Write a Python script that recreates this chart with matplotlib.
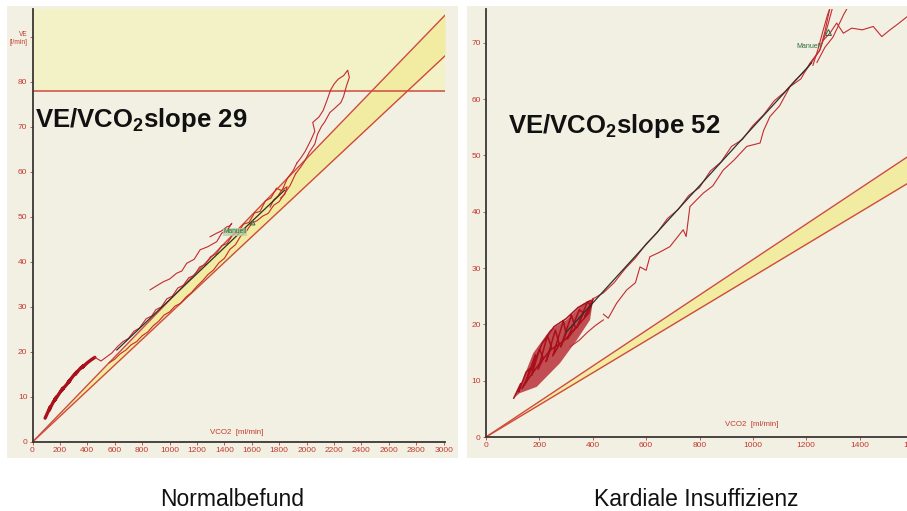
import matplotlib
matplotlib.use("Agg")
import matplotlib.pyplot as plt
from matplotlib.patches import Rectangle
from matplotlib import font_manager

plt.rcParams["font.family"] = ["Liberation Sans", "DejaVu Sans"]
plt.rcParams["mathtext.fontset"] = "custom"
plt.rcParams["mathtext.rm"] = "Liberation Sans"
plt.rcParams["mathtext.bf"] = "Liberation Sans:bold"

# ---------------- data ----------------
# normal reference band (VE/VCO2 slope limits, l per l)
band_low = 28.5
band_high = 31.5

# left panel: healthy subject
left_slope = 29
left_intercept = 2.6
left_fit_range = [615, 1840]
left_ve_limit = 78
left_xticks = [0, 200, 400, 600, 800, 1000, 1200, 1400, 1600, 1800, 2000, 2200, 2400, 2600, 2800, 3000]
left_yticks = [0, 10, 20, 30, 40, 50, 60, 70, 80, 90]
left_ytick_labels = ["0", "10", "20", "30", "40", "50", "60", "70", "80", "VE\n[l/min]"]

left_warm_x = [92, 110, 130, 120, 150, 175, 160, 200, 225, 210, 250, 275, 260, 300, 325, 310, 350, 375, 360, 400, 430, 455]
left_warm_y = [5.3, 6.5, 7.8, 7.0, 8.8, 10.0, 9.2, 11.0, 12.0, 11.4, 12.8, 13.8, 13.2, 14.8, 15.6, 15.0, 16.4, 17.0, 16.5, 17.6, 18.3, 18.8]

left_up_x = [455, 500, 540, 580, 620, 660, 700, 740, 780, 830, 870, 900, 940, 980, 1020, 1060, 1100, 1140, 1180, 1220,
             1260, 1300, 1340, 1380, 1420, 1460, 1500, 1540, 1580, 1620, 1660, 1700, 1740, 1780, 1820, 1860, 1900, 1930]
left_up_y = [18.8, 18.0, 18.9, 19.8, 21.2, 22.3, 23.0, 24.6, 25.3, 27.4, 28.0, 29.4, 30.0, 31.8, 32.4, 34.2, 34.8, 36.5, 37.0, 38.9,
             39.4, 41.2, 41.8, 43.6, 44.1, 46.0, 46.5, 48.4, 48.8, 50.9, 51.2, 53.6, 54.2, 56.4, 55.8, 58.6, 60.2, 62.0]

left_peak_x = [1930, 1960, 1990, 2030, 2060, 2045, 2090, 2120, 2150, 2175, 2200, 2230, 2270, 2300, 2312, 2290, 2270, 2250,
               2200, 2170, 2130, 2110, 2080, 2060, 2020, 1990, 1960, 1920]
left_peak_y = [62.0, 63.2, 64.6, 67.0, 69.0, 71.0, 72.2, 73.6, 76.0, 78.2, 79.5, 80.6, 81.4, 82.6, 81.0, 79.0, 76.8, 75.4,
               74.0, 73.2, 71.0, 70.2, 68.4, 66.2, 64.4, 62.6, 61.2, 59.6]

left_down_x = [1920, 1880, 1840, 1800, 1760, 1720, 1680, 1640, 1600, 1560, 1520, 1480, 1440, 1400, 1360, 1320, 1280, 1240,
               1200, 1160, 1120, 1080, 1040, 1000, 960, 920, 880, 840, 800, 760, 720, 680, 640, 600, 560]
left_down_y = [59.6, 57.0, 55.2, 53.4, 52.6, 50.8, 50.2, 49.2, 48.6, 46.8, 45.8, 43.8, 42.8, 40.8, 39.8, 38.2, 37.2, 35.8,
               34.6, 33.2, 32.2, 30.8, 30.2, 28.9, 28.2, 26.8, 25.8, 24.4, 23.6, 22.3, 21.6, 20.4, 19.6, 18.4, 17.6]

left_loop_x = [858, 900, 955, 1000, 1052, 1090, 1125, 1180, 1223, 1280, 1344, 1381, 1420, 1454, 1440, 1418, 1380, 1344, 1296]
left_loop_y = [33.8, 34.6, 35.6, 36.2, 37.5, 38.0, 39.7, 40.6, 42.7, 43.4, 44.5, 46.4, 47.0, 48.6, 48.0, 47.8, 46.9, 46.4, 45.6]

left_hook_x = [1734, 1760, 1790, 1820, 1858, 1840, 1810]
left_hook_y = [52.2, 53.8, 54.6, 56.0, 56.7, 55.0, 54.2]

left_marker = (1602, 48.9)
left_marker_text = (1478, 46.7)

# right panel: heart failure patient
right_slope = 52
right_intercept = 3.0
right_fit_range = [300, 1220]
right_xticks = [0, 200, 400, 600, 800, 1000, 1200, 1400, 1600]
right_yticks = [0, 10, 20, 30, 40, 50, 60, 70]

right_cluster_edge_x = [127, 177, 240, 302, 365, 402, 390, 340, 277, 190, 127, 104]
right_cluster_edge_y = [8.9, 14.9, 19.0, 20.8, 23.7, 24.6, 20.8, 17.2, 13.1, 8.9, 7.8, 6.9]

right_cluster_x = [104, 130, 122, 150, 165, 150, 185, 172, 200, 215, 195, 230, 245, 225, 260, 275, 250, 290, 300, 280,
                   320, 335, 305, 350, 365, 340, 380, 395, 370, 402, 385, 330, 290, 240, 200, 160, 135, 170, 210, 255,
                   300, 345, 390]
right_cluster_y = [6.9, 9.5, 8.0, 11.5, 12.2, 9.8, 14.6, 11.0, 15.6, 14.0, 12.0, 18.0, 16.0, 13.4, 19.0, 16.4, 14.4, 20.6,
                   18.4, 16.0, 21.6, 19.4, 17.4, 22.6, 22.0, 19.4, 24.0, 23.4, 21.4, 24.6, 22.0, 19.0, 17.0, 15.4,
                   13.0, 10.4, 8.6, 12.0, 16.6, 19.6, 21.0, 23.0, 24.2]

right_tail_x = [315, 350, 380, 410, 440]
right_tail_y = [16.0, 17.2, 18.6, 19.8, 20.8]

right_up_x = [400, 440, 480, 520, 560, 600, 640, 680, 720, 760, 800, 840, 880, 920, 960, 1000, 1040, 1080, 1120, 1160,
              1200, 1230, 1250, 1265, 1280, 1300]
right_up_y = [24.5, 25.6, 27.4, 29.8, 31.8, 34.3, 36.2, 38.8, 40.4, 42.9, 44.3, 47.2, 48.8, 51.6, 52.8, 55.3, 57.2, 59.7,
              61.3, 63.4, 65.2, 67.2, 68.6, 70.6, 73.0, 76.5]

right_low_x = [440, 458, 490, 527, 560, 577, 600, 614, 650, 689, 739, 750, 764, 814, 850, 889, 930, 977, 1027, 1040,
               1064, 1100, 1139, 1180, 1214, 1251, 1270, 1290]
right_low_y = [21.8, 21.1, 23.8, 26.1, 27.4, 30.2, 29.6, 32.0, 32.8, 33.8, 36.8, 35.6, 40.9, 43.3, 44.6, 47.4, 49.2, 51.6,
               52.2, 54.4, 56.9, 58.8, 62.2, 63.6, 66.4, 68.7, 72.0, 76.5]

right_top_a_x = [1225, 1245, 1262, 1280, 1292]
right_top_a_y = [66.0, 69.0, 72.0, 75.0, 76.5]
right_top_b_x = [1240, 1270, 1300, 1320, 1340, 1358]
right_top_b_y = [66.5, 69.2, 71.0, 73.0, 75.0, 76.5]

right_wander_x = [1265, 1290, 1314, 1339, 1370, 1410, 1451, 1483, 1514, 1545, 1577, 1600]
right_wander_y = [70.5, 71.8, 73.5, 71.7, 72.6, 72.3, 72.9, 71.1, 72.3, 73.4, 74.6, 75.2]

right_marker = (1281, 72.0)
right_marker_text = (1210, 69.4)

# ---------------- style ----------------
W, H = 907, 511
CREAM = "#f2f0e3"
BAND_FILL = "#f1eca2"
LIMIT_FILL = "#f3f1c6"
EDGE = "#cf4a3e"
TRACE = "#c42a30"
TRACE_DARK = "#a8101c"
TICK_RED = "#c23a30"
GREEN = "#2d6a3a"

_installed = {f.name for f in font_manager.fontManager.ttflist}
if "Liberation Sans Narrow" in _installed:
    TICK_FONT, TICK_SIZE = ["Liberation Sans Narrow", "DejaVu Sans"], 7.0
else:
    TICK_FONT, TICK_SIZE = ["Liberation Sans", "DejaVu Sans"], 6.0

fig = plt.figure(figsize=(W / 100, H / 100), dpi=100)
fig.patch.set_facecolor("white")


def px_rect(x0, y0, x1, y1):
    return [x0 / W, 1 - y1 / H, (x1 - x0) / W, (y1 - y0) / H]


for (x0, y0, x1, y1) in [(7, 6, 458, 458), (467, 6, 907, 458)]:
    r = px_rect(x0, y0, x1, y1)
    fig.add_artist(Rectangle((r[0], r[1]), r[2], r[3], transform=fig.transFigure,
                             facecolor=CREAM, edgecolor="none", zorder=-10))

ax_l = fig.add_axes(px_rect(32.5, 9, 445, 442))
ax_r = fig.add_axes(px_rect(486, 9, 913, 437))


def style_axes(ax, xmax, ymax, xticks, yticks):
    ax.set_facecolor("none")
    ax.set_xlim(0, xmax)
    ax.set_ylim(0, ymax)
    for s in ("top", "right"):
        ax.spines[s].set_visible(False)
    for s in ("left", "bottom"):
        ax.spines[s].set_color("#3a3636")
        ax.spines[s].set_linewidth(1.3)
        ax.spines[s].set_zorder(6)
    ax.set_xticks(xticks)
    ax.set_yticks(yticks)
    ax.tick_params(axis="both", labelsize=TICK_SIZE, labelcolor=TICK_RED, color=TICK_RED,
                   length=2.5, width=0.6, pad=1.2)
    for lbl in ax.get_xticklabels() + ax.get_yticklabels():
        lbl.set_family(TICK_FONT)


def draw_band(ax, xmax):
    xs = [0, xmax]
    lo = [band_low / 1000 * x for x in xs]
    hi = [band_high / 1000 * x for x in xs]
    ax.fill_between(xs, lo, hi, color=BAND_FILL, lw=0, zorder=1)
    ax.plot(xs, lo, color=EDGE, lw=1.0, zorder=2)
    ax.plot(xs, hi, color=EDGE, lw=1.0, zorder=2)


# ---------- left panel ----------
style_axes(ax_l, 3010, 96.2, left_xticks, left_yticks)
ax_l.set_yticklabels(left_ytick_labels)
for lbl in ax_l.get_yticklabels():
    lbl.set_family(TICK_FONT)
    if "VE" in lbl.get_text():
        lbl.set_fontsize(TICK_SIZE - 1.2)
        lbl.set_linespacing(1.3)

ax_l.axhspan(left_ve_limit, 96.2, color=LIMIT_FILL, lw=0, zorder=0)
ax_l.axhline(left_ve_limit, color=EDGE, lw=1.1, zorder=2)
draw_band(ax_l, 3010)

ax_l.plot(left_warm_x, left_warm_y, color=TRACE_DARK, lw=2.4, solid_capstyle="round", zorder=3)
for xs, ys in [(left_up_x, left_up_y), (left_peak_x, left_peak_y), (left_down_x, left_down_y),
               (left_loop_x, left_loop_y), (left_hook_x, left_hook_y)]:
    ax_l.plot(xs, ys, color=TRACE, lw=0.8, zorder=3)

fx = left_fit_range
ax_l.plot(fx, [left_slope / 1000 * x + left_intercept for x in fx], color="#2a2f2a", lw=0.9, zorder=4)

ax_l.plot(*left_marker, marker="^", ms=3.5, mfc="none", mec=GREEN, mew=0.7, zorder=5)
ax_l.text(*left_marker_text, "Manuell", fontsize=4.8, color=GREEN, ha="center", va="center", zorder=5,
          bbox=dict(boxstyle="square,pad=0.1", fc="#b9cfa8", ec="none", alpha=0.8))
ax_l.text(1493, 1.4, "VCO2  [ml/min]", fontsize=TICK_SIZE - 0.3, family=TICK_FONT, color=TICK_RED,
          ha="center", va="bottom")

# ---------- right panel ----------
style_axes(ax_r, 1600, 76.0, right_xticks, right_yticks)
draw_band(ax_r, 1600)

ax_r.fill(right_cluster_edge_x, right_cluster_edge_y, color="#b01822", alpha=0.75, lw=0, zorder=3)
ax_r.plot(right_cluster_x, right_cluster_y, color=TRACE_DARK, lw=1.1, zorder=3)
for xs, ys in [(right_tail_x, right_tail_y), (right_up_x, right_up_y), (right_low_x, right_low_y),
               (right_top_a_x, right_top_a_y), (right_top_b_x, right_top_b_y), (right_wander_x, right_wander_y)]:
    ax_r.plot(xs, ys, color=TRACE, lw=0.8, zorder=3)

fx = right_fit_range
ax_r.plot(fx, [right_slope / 1000 * x + right_intercept for x in fx], color="#2a2f2a", lw=0.9, zorder=4)

ax_r.plot(*right_marker, marker="^", ms=4, mfc="none", mec=GREEN, mew=0.7, zorder=5)
ax_r.text(*right_marker_text, "Manuell", fontsize=5, color=GREEN, ha="center", va="center", zorder=5)
ax_r.text(997, 1.6, "VCO2  [ml/min]", fontsize=TICK_SIZE - 0.3, family=TICK_FONT, color=TICK_RED,
          ha="center", va="bottom")

# ---------- headline texts ----------
fig.text(35 / W, 1 - 126.5 / H, r"VE/VCO$_\mathbf{2}$slope 29", fontsize=18.5, fontweight="bold",
         color="#111111", ha="left", va="baseline")
fig.text(508 / W, 1 - 133 / H, r"VE/VCO$_\mathbf{2}$slope 52", fontsize=18.5, fontweight="bold",
         color="#111111", ha="left", va="baseline")

fig.text(232 / W, 1 - 500 / H, "Normalbefund", fontsize=16.5, color="#111111", ha="center", va="center")
fig.text(696 / W, 1 - 500 / H, "Kardiale Insuffizienz", fontsize=16.5, color="#111111", ha="center", va="center")

fig.savefig("out.png", dpi=100, facecolor="white")
